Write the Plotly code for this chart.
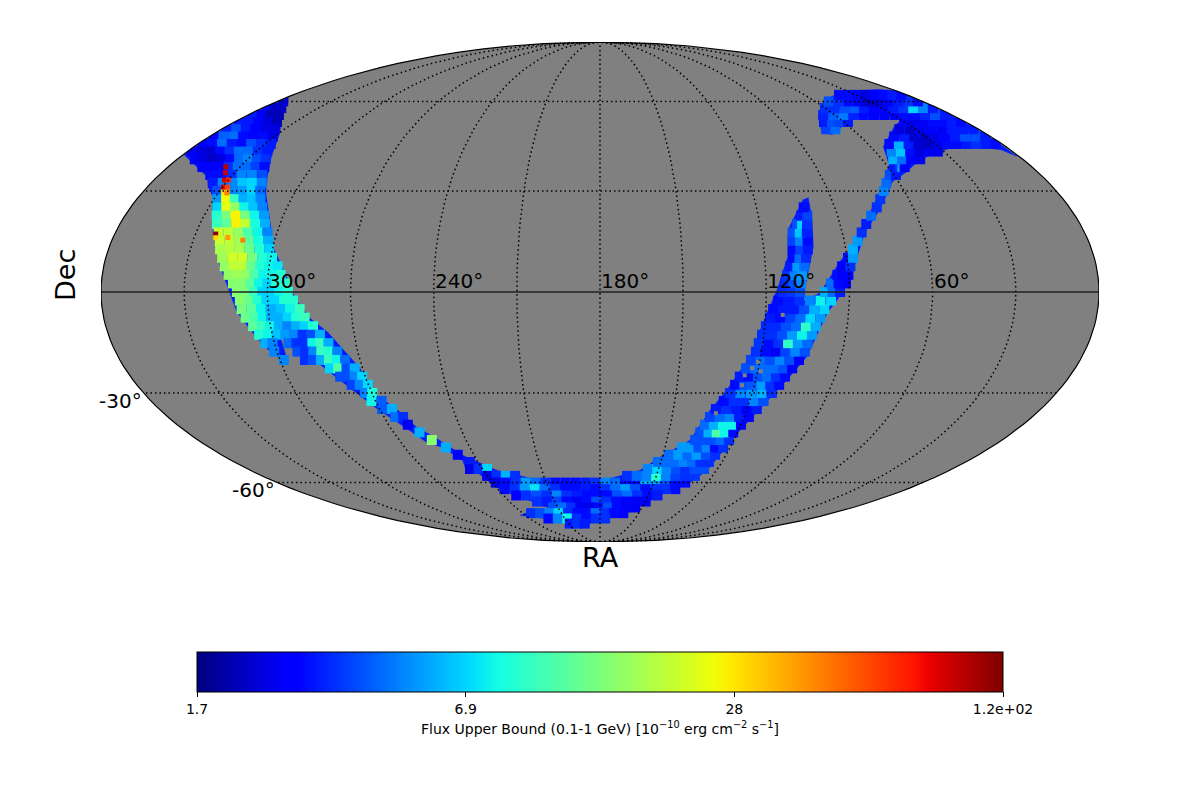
import math
import plotly.graph_objects as go

# Each row: (dec, RA of first cell, RA of last cell, flux values from left to right)
NORTH_LEFT = [
 (60, 356.6, 356.6, [2.5]),
 (57.5, 357.2, 349.7, [3, 2.2, 2.2]),
 (55, 357.3, 344, [3.2, 2.6, 2.1, 2.1]),
 (52.5, 357.6, 338.9, [3.2, 3.2, 2.8, 2.4, 2.1]),
 (50, 357.5, 334.7, [3.3, 4, 3.2, 2.8, 2.5, 2.4]),
 (47.5, 358, 330.7, [2.8, 4.3, 4.5, 3, 2.8, 3, 2.5]),
 (45, 357.9, 327.4, [2.8, 3, 4.5, 3.2, 3, 4, 3.5, 3.2]),
 (42.5, 357.9, 325.1, [2.6, 2.4, 2.3, 3, 3.5, 4.5, 4.5, 3.5, 3.2]),
 (40, 352.5, 322.3, [2.6, 2.4, 2.2, 2.4, 3, 4.5, 5, 4, 3.5]),
 (37.5, 345.6, 319.8, [2.8, 2.8, 2.8, 3.5, 4.5, 4.5, 3.8, 3]),
 (35, 339.1, 317.9, [3, 3, 3.5, 5, 5, 4]),
 (32.5, 335.2, 315.6, [3.2, 5, 5, 6.5, 7, 5]),
 (30, 330.9, 314, [4, 30, 5, 5.5, 7, 4.5]),
]
LEFT_ARM = [
 (27.5, 328.6, 311.9, [5.5, 26, 10, 6, 6.5, 5]),
 (25, 326.7, 309.5, [7, 24, 16, 8, 6.5, 5]),
 (22.5, 325.2, 307.3, [9, 14, 27, 14, 8, 5.5]),
 (20, 323.6, 305.6, [10, 12, 27, 20, 8.5, 6]),
 (17.5, 321.7, 303.5, [21, 20, 16, 11, 8, 5]),
 (15, 320.2, 302.2, [21, 20, 17, 12, 8.5, 6]),
 (12.5, 319.1, 301.1, [18, 19, 18, 13, 9, 7]),
 (10, 317.6, 299.4, [17, 22, 22, 14, 9, 8]),
 (7.5, 316.1, 296.9, [16, 20, 20, 13, 9, 8, 7.5]),
 (5, 314.3, 295.5, [16, 17, 16, 11, 8, 8, 9]),
 (2.5, 312.5, 293.7, [15, 15, 12, 8, 7, 9, 9]),
 (0, 311, 292.6, [15, 14, 10, 7, 7, 8, 9]),
 (-2.5, 310, 290.8, [15, 13, 9, 7, 7, 9, 9]),
 (-5, 309.6, 288.6, [14, 12, 8, 6, 6.5, 8, 10]),
 (-7.5, 308.5, 287.1, [13, 11, 8, 6, 6, 7, 9, 10]),
 (-10, 306.3, 284.5, [12, 10, 8, 6, 5, 6, 7, 9]),
 (-12.5, 304.8, 282.5, [9, 8, 6.5, 5.5, 5, 3.5, 4, 6]),
 (-15, 303.3, 300.7, [6, 5]),
 (-15, 294.8, 280.1, [4.5, 3.5, 3.5, 8, 10, 6]),
 (-17.5, 301, 301, [5]),
 (-17.5, 292.4, 277.6, [4, 3.5, 5, 10, 9, 5]),
 (-20, 298.5, 298.5, [5]),
 (-20, 290.6, 275.6, [3.5, 4, 6, 10, 8, 4.5]),
]
TAIL = [
 (-22.5, 282.3, 272.9, [7, 11, 4, 6]),
 (-25, 279.6, 271.2, [4, 4, 5, 7]),
 (-27.5, 276.5, 270.2, [3.8, 5, 7]),
 (-30, 272.6, 269.8, [5, 8.5]),
 (-32.5, 271.6, 267.6, [8, 4.2]),
 (-35, 268.9, 264.9, [4.2, 6]),
 (-37.5, 265.3, 262, [4.5, 3.5]),
 (-40, 261.8, 261.8, [2.6]),
 (-42.5, 258.7, 258.7, [6]),
 (-45, 255.3, 255.3, [15]),
 (-47.5, 251, 251, [6]),
 (-50, 247.6, 247.6, [2.8]),
 (-52.5, 244, 244, [3.2]),
 (-55, 246.4, 237.7, [2.5, 3.5, 7]),
 (-57.5, 240.1, 225.2, [2.5, 3.5, 6, 3.5]),
]
BOTTOM = [
 (-60, 238.1, 132.5, [2.5, 3, 3.5, 5.5, 4.5, 3.5, 3, 3, 3, 3.2, 3.5, 5, 4.5, 3, 3, 6, 5.5, 4, 3, 3]),
 (-62.5, 236, 135.8, [3, 3.5, 5.5, 7.5, 4.5, 3.5, 3, 3, 3.2, 3, 3.5, 4.5, 5.5, 4, 3, 3.5, 3.5, 3]),
 (-65, 232, 144.3, [2.8, 3.5, 4, 3.5, 5, 3.5, 3.2, 3, 3, 3, 4, 4.5, 3.5, 3, 3.2]),
 (-67.5, 221.7, 149.8, [3.5, 3.2, 3.8, 3, 2.6, 3, 4, 3.5, 3, 2.8, 2.6, 2.7]),
 (-70, 213.5, 155, [4, 4.5, 3.5, 2.6, 2.5, 3, 4, 3, 2.6, 2.6]),
 (-72.5, 233.3, 162, [3.5, 4, 5, 7, 3.5, 3, 3, 4.5, 3.5, 3, 2.9]),
 (-75, 224, 175.6, [3, 5, 8, 3.5, 3, 3.5, 3.5]),
 (-77.5, 209, 194.6, [3.2, 3.5, 3.2]),
]
RIGHT_ARM = [
 (-57.5, 165.6, 129.5, [3.5, 4.5, 5, 9, 5, 3.8, 3.5, 3.6]),
 (-55, 155.5, 126.9, [5, 7, 5, 4, 3.5, 4, 4]),
 (-52.5, 151.5, 126.4, [4.5, 4.5, 4.5, 5, 4.5, 3.5, 3.5]),
 (-50, 147.2, 125.3, [4.5, 5.5, 4.5, 5.5, 4, 3.5]),
 (-47.5, 142.2, 123.3, [5.5, 5.5, 4, 5, 3, 3.5]),
 (-45, 137.4, 122.2, [4, 4, 4, 4.5, 3.5]),
 (-42.5, 136.3, 121.9, [4, 6, 11, 8, 3]),
 (-40, 135.3, 120, [4.5, 6, 8, 8, 2.8]),
 (-37.5, 134.2, 118, [3.8, 4.5, 5, 3.2, 2.7]),
 (-35, 132.7, 116, [3.2, 3.5, 3.2, 2.7, 3.2]),
 (-32.5, 130.4, 114.4, [3, 3.5, 3.5, 5, 4]),
 (-30, 128.8, 112.2, [3.5, 5, 5.5, 6, 3.5]),
 (-27.5, 127.5, 110.4, [3, 4, 4.2, 5.5, 3.5, 3]),
 (-25, 126.4, 109.1, [3.2, 3, 4, 4.5, 3.5, 3]),
 (-22.5, 124.7, 107.2, [4, 4.5, 4.5, 4.5, 4, 2.8]),
 (-20, 123.4, 105.4, [3.8, 4.5, 4, 5, 4, 2.8]),
 (-17.5, 122.1, 103.9, [3.5, 3, 2.6, 3.8, 5, 4]),
 (-15, 121.5, 103.5, [3.6, 3, 3.5, 9.5, 5.5, 4.5]),
 (-12.5, 120.7, 102.4, [3.5, 3.5, 4, 5.5, 8, 5.5]),
 (-10, 119.6, 101.4, [3.4, 3.4, 4, 4.5, 9.5, 6]),
 (-7.5, 118.3, 100.1, [3.2, 3, 3.8, 4.5, 7, 5.5]),
 (-5, 117.4, 98.9, [3, 3.2, 3.2, 4, 6, 7]),
 (-2.5, 115.7, 96.6, [3, 3.2, 3.5, 5, 8, 7]),
]
SPUR = [
 (0, 113.9, 107.8, [3.4, 3.6, 4]),
 (2.5, 113.2, 107.4, [3.4, 4, 5]),
 (5, 112.3, 106.9, [3.5, 5, 5.5]),
 (7.5, 111, 105.9, [3.2, 5.5, 4.5]),
 (10, 109.7, 105, [3, 4.5, 3.4]),
 (12.5, 109.4, 103.9, [3, 3.8, 3.2]),
 (15, 109, 103.5, [3.8, 5, 3]),
 (17.5, 108.4, 103.2, [4, 6.5, 3.3]),
 (20, 106.1, 102.4, [4, 7, 3.5]),
 (22.5, 103.8, 101.5, [3.2, 3.8]),
 (25, 101.9, 101.9, [3]),
]
STRAND = [
 (0, 98.8, 93.4, [6, 4.5, 3.2]),
 (2.5, 96.6, 91.2, [4.5, 3, 2.8]),
 (5, 94.2, 90.2, [3, 2.6, 2.7]),
 (7.5, 92.2, 89.2, [2.8, 3.5]),
 (10, 89.7, 87.9, [3, 5.5]),
 (12.5, 87.4, 87.4, [6]),
 (15, 85.1, 85.1, [5.5]),
 (17.5, 82.8, 82.8, [3.5]),
 (20, 80.2, 80.2, [3.2]),
 (22.5, 77.3, 77.3, [4.5]),
 (25, 73.9, 73.9, [3.5]),
 (27.5, 71.1, 71.1, [3.6]),
 (30, 68.1, 68.1, [5]),
 (32.5, 65.2, 65.2, [4.5]),
 (35, 61.7, 59.2, [4, 3.2]),
 (37.5, 55.2, 53.1, [3.5, 5.5, 2.8]),
]
NORTH_RIGHT = [
 (40, 55.2, 43.7, [6, 4.5, 2.8, 2.6]),
 (42.5, 52.8, 32.7, [5, 6.5, 3, 2.4, 2.6, 2.6]),
 (45, 50.5, 3, [3, 6, 3.2, 2.3, 2.2, 2.5, 3, 3, 3.2, 3.5, 3.2, 3]),
 (47.5, 44.5, 2.5, [3, 3.2, 2.3, 2.2, 2.5, 2.7, 3.2, 4, 4, 3.2]),
 (50, 37.7, 2.5, [2.4, 2.2, 2.5, 2.7, 2.6, 3.2, 3.2, 3.2]),
 (50, 72.4, 68.1, [3.8, 4.5]),
 (52.5, 30.4, 2.4, [2.7, 2.5, 2.6, 3, 3, 3.2, 3]),
 (52.5, 69.8, 58, [3.2, 4, 3.8, 3.2]),
 (55, 66, 3.7, [3.3, 4.3, 4.8, 3.3, 3, 2.8, 2.8, 2.6, 3, 3, 3.3, 4, 3.2]),
 (57.5, 60.3, 2.8, [3.5, 3.5, 4, 4.2, 3.2, 2.8, 2.9, 3.2, 3.6, 7, 5, 3.2]),
 (60, 52.5, 2.8, [4, 3.5, 3, 2.6, 2.2, 2.3, 2.7, 3.2, 3.5, 3]),
 (62.5, 39.8, 3.3, [3, 3, 2.7, 2.4, 2.7, 3, 3.2, 3]),
]

# Bright narrow features
HOT_RA = [336, 333.8, 331.5, 329.9, 329.7, 328.1, 326.6, 322.5, 322, 317.6, 311.7]
HOT_DEC = [37.6, 35.7, 33.4, 33.4, 31.2, 31.2, 29.4, 17, 15.9, 16, 15.2]
HOT_FLUX = [95, 90, 85, 70, 85, 60, 45, 110, 30, 40, 45]

# Small unexposed holes in the southern arm
HOLE_RA = [113.8, 120.6, 122.4, 124.6, 124.8, 132.2, 118.8]
HOLE_DEC = [-6.7, -20.6, -22.4, -24.6, -27.6, -36.3, -23.4]

# Outline of the exposed region
OUTLINE_RA = [357.5, 338.7, 329.8, 321, 315.2, 311.3, 303.8, 299.7, 295, 290.1, 285.3, 279.6, 271, 269.4,
              262.2, 258.7, 252.7, 245.5, 233, 217.8, 211.5, 195, 180, 159.4, 151.2, 139.6, 134.9, 130.2,
              124, 119.5, 116.1, 111.6, 110, 101.2, 98.9, 100.1, 101.8, 106, 107.1, 100.6, 92.9, 85.2,
              75.2, 69.7, 58.8, 54.4, 38.4, 27, 38.2, 55.3, 72.1, 76.1, 69.9, 53.3, 31.8, 8.3,
              1, 1, 1, 1, 1, 1, 4, 12.6, 23.3, 31.4, 44, 53.8, 62.5, 66.5, 74.4, 81.7, 89.8, 94.4, 97.8,
              102.8, 108, 120, 124.9, 129.8, 146, 159.2, 180, 206.2, 226.6, 244, 233.9, 216, 226.6, 234.9,
              239.7, 244, 248.3, 247, 252.4, 258.2, 262.5, 271, 274.3, 281, 286.4, 291.9, 297.6, 297.3,
              302.4, 305.9, 311.4, 318, 322.8, 325.5, 330.9, 335.6, 339.6, 359.3, 359, 359, 359, 359]
OUTLINE_DEC = [61.1, 53.3, 48.8, 40.8, 34.4, 29.4, 20.3, 12.9, 7, -1.8, -7.6, -11.7, -22.4, -29.8,
               -36, -40.8, -44.5, -50.2, -55.5, -58.5, -59.5, -59.7, -59.5, -55.5, -50.9, -45.1, -35.4, -29,
               -19, -6.1, 0.6, 10.2, 18.2, 27.3, 27.9, 21.2, 13.2, 1.5, -2.9, -0.3, 8.8, 15.3,
               25.2, 29.8, 38.2, 44.1, 50.9, 54.1, 55.1, 53.3, 48.2, 48.8, 54.1, 60.7, 63.9, 64.6,
               64, 60, 55, 50, 45, 41, 43.1, 44.1, 44.1, 42.5, 39.9, 36, 32.9, 29.8, 23.4, 17.4, 3.5, -2.3, -6.1,
               -19, -26, -42.8, -55.5, -59.9, -65.8, -72, -76, -77.5, -75, -73.5, -72, -70.3, -67, -63.9,
               -61.9, -56.2, -54.4, -52, -47.5, -45.8, -41.8, -34.8, -31.6, -25.5, -20.6, -19, -10.5, -20.9,
               -17.6, -13.5, -5.8, 7.9, 15.9, 20.3, 28.2, 31.2, 34.4, 41.4, 45, 50, 55, 60]

RA_TICKS = [300, 240, 180, 120, 60]
RA_TICK_LABELS = ["300°", "240°", "180°", "120°", "60°"]
COLORBAR_LABELS = ["1.7", "6.9", "28", "1.2e+02"]
FLUX_MIN, FLUX_MAX = 1.7, 117

JET = [[0, "rgb(0,0,127)"], [.11, "rgb(0,0,255)"], [.125, "rgb(0,0,255)"], [.34, "rgb(0,219,255)"],
       [.375, "rgb(20,255,226)"], [.64, "rgb(238,255,8)"], [.66, "rgb(255,236,0)"], [.89, "rgb(255,19,0)"],
       [.91, "rgb(232,0,0)"], [1, "rgb(127,0,0)"]]
GREY = "#808080"
BASE = "rgb(0,26,255)"
R2 = math.sqrt(2)


def mollweide(ra, dec):
    """Sky position to Mollweide plane; RA grows to the left and 180 is the centre."""
    phi = math.radians(dec)
    if abs(dec) >= 90:
        theta = math.copysign(math.pi / 2, dec)
    else:
        theta = phi
        for _ in range(60):
            theta -= (2 * theta + math.sin(2 * theta) - math.pi * math.sin(phi)) / (2 + 2 * math.cos(2 * theta))
    return (2 * R2 / math.pi) * math.radians(180 - ra) * math.cos(theta), R2 * math.sin(theta)


def project(ras, decs):
    xs, ys = [], []
    for ra, dec in zip(ras, decs):
        if ra is None:
            xs.append(None)
            ys.append(None)
        else:
            x, y = mollweide(ra, dec)
            xs.append(x)
            ys.append(y)
    return xs, ys


# the page body has an 8 px margin, so the figure starts at (8, 8)
def X(px):
    return (px - 8) / 1200


def Y(py):
    return (800 - (py - 8)) / 800


cell_ra, cell_dec, cell_flux = [], [], []
for group in (NORTH_LEFT, LEFT_ARM, TAIL, BOTTOM, RIGHT_ARM, SPUR, STRAND, NORTH_RIGHT):
    for dec, ra_a, ra_b, vals in group:
        n = len(vals)
        for i, v in enumerate(vals):
            cell_ra.append(ra_a + (ra_b - ra_a) * (i / (n - 1) if n > 1 else 0))
            cell_dec.append(dec)
            cell_flux.append(v)

cmin, cmax = math.log10(FLUX_MIN), math.log10(FLUX_MAX)
fig = go.Figure()

# Sphere outline
limb_ra = [360] * 91 + [0] * 91
limb_dec = [-90 + 2 * i for i in range(91)] + [90 - 2 * i for i in range(91)]
lx, ly = project(limb_ra, limb_dec)
fig.add_trace(go.Scatter(x=lx, y=ly, mode="lines", fill="toself", fillcolor=GREY,
                         line=dict(color=GREY, width=0), hoverinfo="skip"))

ox, oy = project(OUTLINE_RA + OUTLINE_RA[:1], OUTLINE_DEC + OUTLINE_DEC[:1])
fig.add_trace(go.Scatter(x=ox, y=oy, mode="lines", fill="toself", fillcolor=BASE,
                         line=dict(color=BASE, width=0.5), hoverinfo="skip"))

cx, cy = project(cell_ra, cell_dec)
fig.add_trace(go.Scatter(
    x=cx, y=cy, mode="markers", hoverinfo="skip",
    marker=dict(symbol="square", size=10, line=dict(width=0),
                color=[math.log10(v) for v in cell_flux], colorscale=JET, cmin=cmin, cmax=cmax,
                showscale=True,
                colorbar=dict(orientation="h", x=X(600), xanchor="center", y=Y(652), yanchor="top",
                              lenmode="fraction", len=806 / 1200, thicknessmode="pixels", thickness=40,
                              outlinecolor="black", outlinewidth=1, xpad=0, ypad=0,
                              tickmode="array",
                              tickvals=[cmin + (cmax - cmin) * i / 3 for i in range(4)],
                              ticktext=COLORBAR_LABELS, ticks="outside", ticklen=5, tickcolor="black",
                              tickfont=dict(family="DejaVu Sans", size=14, color="black"),
                              title=dict(text="Flux Upper Bound (0.1-1 GeV) [10<sup>−10</sup> erg cm<sup>−2</sup> s<sup>−1</sup>]",
                                         side="bottom",
                                         font=dict(family="DejaVu Sans", size=14, color="black"))))))

hx, hy = project(HOT_RA, HOT_DEC)
fig.add_trace(go.Scatter(
    x=hx, y=hy, mode="markers", hoverinfo="skip",
    marker=dict(symbol="square", size=5, line=dict(width=0),
                color=[math.log10(v) for v in HOT_FLUX], colorscale=JET, cmin=cmin, cmax=cmax, showscale=False)))

hox, hoy = project(HOLE_RA, HOLE_DEC)
fig.add_trace(go.Scatter(x=hox, y=hoy, mode="markers", hoverinfo="skip",
                         marker=dict(symbol="square", size=4, color=GREY, line=dict(width=0))))

# White surround: hides the part of edge cells that lies beyond the limb
fig.add_trace(go.Scatter(x=lx + [0, 3, 3, -3, -3, 0], y=ly + [-1.6, -1.6, 1.6, 1.6, -1.6, -1.6],
                         mode="lines", fill="toself", fillcolor="white",
                         line=dict(color="white", width=0), hoverinfo="skip"))

# Graticule on top of the map
gra, gdec = [], []
for m in range(30, 331, 30):
    for d in range(-90, 91, 2):
        gra.append(m)
        gdec.append(d)
    gra.append(None)
    gdec.append(None)
for p in (-60, -30, 30, 60):
    for r in range(0, 361, 4):
        gra.append(r)
        gdec.append(p)
    gra.append(None)
    gdec.append(None)
gx, gy = project(gra, gdec)
fig.add_trace(go.Scatter(x=gx, y=gy, mode="lines", hoverinfo="skip",
                         line=dict(color="black", width=1.5, dash="1.5px,3px")))
ex, ey = project([0, 360], [0, 0])
fig.add_trace(go.Scatter(x=ex, y=ey, mode="lines", hoverinfo="skip", line=dict(color="#222222", width=1.5)))
fx, fy = project(limb_ra + [360], limb_dec + [-90])
fig.add_trace(go.Scatter(x=fx, y=fy, mode="lines", hoverinfo="skip", line=dict(color="black", width=1.2)))

annotations = []
font = dict(family="DejaVu Sans", size=20, color="black")
for ra, label in zip(RA_TICKS, RA_TICK_LABELS):
    px = 600 + (180 - ra) / 180 * 499
    annotations.append(dict(x=X(px), y=Y(281), xref="paper", yref="paper", text=label,
                            showarrow=False, xanchor="left", yanchor="middle", font=font, xshift=-1))
annotations.append(dict(x=X(144), y=Y(401), xref="paper", yref="paper", text="-30°",
                        showarrow=False, xanchor="right", yanchor="middle", font=font))
annotations.append(dict(x=X(277), y=Y(490), xref="paper", yref="paper", text="-60°",
                        showarrow=False, xanchor="right", yanchor="middle", font=font))
big = dict(family="DejaVu Sans", size=27, color="black")
annotations.append(dict(x=X(600), y=Y(557), xref="paper", yref="paper", text="RA",
                        showarrow=False, xanchor="center", yanchor="middle", font=big))
annotations.append(dict(x=X(65), y=Y(275), xref="paper", yref="paper", text="Dec", textangle=-90,
                        showarrow=False, xanchor="center", yanchor="middle", font=big))

axis = dict(visible=False, fixedrange=True)
fig.update_layout(
    width=1200, height=800, margin=dict(l=0, r=0, t=0, b=0), showlegend=False,
    paper_bgcolor="white", plot_bgcolor="white", annotations=annotations,
    xaxis=dict(axis, range=[-2 * R2, 2 * R2], domain=[X(101), X(1099)]),
    yaxis=dict(axis, range=[-R2, R2], domain=[Y(542), Y(42)]))

fig.write_html("out.html", config=dict(displayModeBar=False))
